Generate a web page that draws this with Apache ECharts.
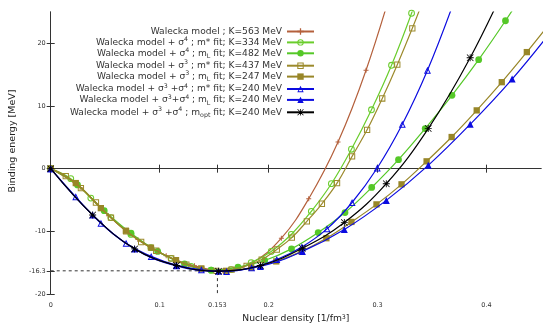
<!DOCTYPE html>
<html><head><meta charset="utf-8">
<script src="https://cdn.jsdelivr.net/npm/echarts@6/dist/echarts.min.js"></script>
<style>html,body{margin:0;padding:0;background:#fff}#c{width:550px;height:329px}</style>
</head><body><div id="c"></div>
<script>
// ---- data ----
const xTickLabels = [0, 0.1, 0.153, 0.2, 0.3, 0.4];
const yTickLabels = [-20, -16.3, -10, 0, 10, 20];
const saturation = [0.153, -16.3];

const walX = [0, 0.027, 0.053, 0.080, 0.106, 0.132, 0.158, 0.185, 0.2117, 0.2368, 0.2637, 0.2894, 0.316];
const walY = [0, -3.0, -7.5, -11.3, -13.9, -15.5, -16.3, -15.0, -11.1, -4.8, 4.25, 15.7, 30.5];

const s4msX = [0, 0.0184, 0.0368, 0.0552, 0.0736, 0.092, 0.1104, 0.1288, 0.1472, 0.1656, 0.184, 0.2024, 0.2208, 0.2392, 0.2576, 0.276, 0.2944, 0.3128, 0.3312, 0.3496];
const s4msY = [0, -1.6, -4.7, -7.8, -10.5, -12.6, -14.3, -15.6, -16.2, -16.1, -15.0, -13.2, -10.5, -6.8, -2.4, 3.1, 9.4, 16.5, 24.8, 34.0];

const s4mlX = [0, 0.0246, 0.0491, 0.0737, 0.0982, 0.1228, 0.1473, 0.1719, 0.1964, 0.221, 0.2455, 0.2701, 0.2946, 0.3192, 0.3437, 0.3683, 0.3928, 0.4174, 0.4419];
const s4mlY = [0, -2.6, -6.7, -10.3, -13.2, -15.2, -16.2, -15.7, -14.65, -12.8, -10.2, -7.0, -3.0, 1.44, 6.4, 11.7, 17.4, 23.6, 30.2];

const s3msX = [0, 0.0138, 0.0277, 0.0415, 0.0553, 0.0692, 0.083, 0.0968, 0.1106, 0.1245, 0.1383, 0.1521, 0.166, 0.1798, 0.1936, 0.2075, 0.2213, 0.2351, 0.2489, 0.2628, 0.2766, 0.2904, 0.3043, 0.3181, 0.3319, 0.3457];
const s3msY = [0, -1.2, -3.1, -5.4, -7.8, -10.0, -11.7, -13.1, -14.3, -15.3, -15.95, -16.3, -16.1, -15.5, -14.5, -12.9, -11.0, -8.4, -5.6, -2.3, 1.96, 6.2, 11.2, 16.6, 22.4, 28.6];

const s3mlX = [0, 0.023, 0.046, 0.069, 0.092, 0.115, 0.138, 0.161, 0.184, 0.207, 0.23, 0.253, 0.276, 0.299, 0.322, 0.345, 0.368, 0.391, 0.414, 0.437, 0.46];
const s3mlY = [0, -2.3, -6.3, -9.9, -12.6, -14.6, -15.95, -16.3, -15.8, -14.8, -13.2, -11.1, -8.5, -5.7, -2.5, 1.17, 5.05, 9.3, 13.8, 18.6, 23.6];

const s34msX = [0, 0.023, 0.0461, 0.0692, 0.0922, 0.1153, 0.1383, 0.1614, 0.1844, 0.2075, 0.2305, 0.2536, 0.2766, 0.2997, 0.3227, 0.3458, 0.3688];
const s34msY = [0, -4.5, -8.7, -11.9, -14.0, -15.4, -16.15, -16.4, -15.8, -14.5, -12.5, -9.6, -5.4, 0.1, 7.08, 15.7, 26.0];

const s34mlX = [0, 0.0385, 0.077, 0.1155, 0.154, 0.1925, 0.231, 0.2695, 0.308, 0.3465, 0.385, 0.4235, 0.462];
const s34mlY = [0, -7.4, -12.8, -15.5, -16.35, -15.6, -13.2, -9.7, -5.06, 0.53, 7.08, 14.3, 22.5];

const s34moX = [0, 0.0385, 0.077, 0.1155, 0.154, 0.1925, 0.231, 0.2695, 0.308, 0.3465, 0.385, 0.4235];
const s34moY = [0, -7.4, -12.8, -15.45, -16.35, -15.45, -12.7, -8.6, -2.4, 6.4, 17.7, 31.5];

const seriesNames = [
  'Walecka model ; K=563 MeV',
  'Walecka model + σ4 ; m* fit; K=334 MeV',
  'Walecka model + σ4 ; mL fit; K=482 MeV',
  'Walecka model + σ3 ; m* fit; K=437 MeV',
  'Walecka model + σ3 ; mL fit; K=247 MeV',
  'Walecka model + σ3 +σ4 ; m* fit; K=240 MeV',
  'Walecka model + σ3+σ4 ; mL fit; K=240 MeV',
  'Walecka model + σ3 +σ4 ; mopt fit; K=240 MeV'
];
const legendRich = [
  '{n|Walecka model ; K=563 MeV}',
  '{n|Walecka model + σ}{sup|4}{n| ; m* fit; K=334 MeV}',
  '{n|Walecka model + σ}{sup|4}{n| ; m}{sub|L}{n| fit; K=482 MeV}',
  '{n|Walecka model + σ}{sup|3}{n| ; m* fit; K=437 MeV}',
  '{n|Walecka model + σ}{sup|3}{n| ; m}{sub|L}{n| fit; K=247 MeV}',
  '{n|Walecka model + σ}{sup|3}{n| +σ}{sup|4}{n| ; m* fit; K=240 MeV}',
  '{n|Walecka model + σ}{sup|3}{n|+σ}{sup|4}{n| ; m}{sub|L}{n| fit; K=240 MeV}',
  '{n|Walecka model + σ}{sup|3}{n| +σ}{sup|4}{n| ; m}{sub|opt}{n| fit; K=240 MeV}'
];

// ---- styles ----
const RING = 'path://M0,5 A5,5 0 1,1 10,5 A5,5 0 1,1 0,5 Z M1.5,5 A3.5,3.5 0 1,0 8.5,5 A3.5,3.5 0 1,0 1.5,5 Z';
const SQRING = 'path://M0,0 L10,0 L10,10 L0,10 Z M1.6,1.6 L1.6,8.4 L8.4,8.4 L8.4,1.6 Z';
const TRIRING = 'path://M5,0 L10,10 L0,10 Z M5,3.2 L2.2,8.5 L7.8,8.5 Z';
const PLUS = 'path://M0,2 L5,2 L5,3 L0,3 Z M2,0 L3,0 L3,5 L2,5 Z';
const STAR = 'path://M0,4.4 L10,4.4 L10,5.6 L0,5.6 Z M4.4,0 L5.6,0 L5.6,10 L4.4,10 Z M0.8,0 L10,9.2 L9.2,10 L0,0.8 Z M9.2,0 L10,0.8 L0.8,10 L0,9.2 Z';

const styles = [
  {c: '#b4603c', sym: PLUS, size: 5},
  {c: '#6acd2c', sym: RING, size: 6.8},
  {c: '#55c828', sym: 'circle', size: 6.8},
  {c: '#9c8a2c', sym: SQRING, size: 6.3},
  {c: '#988628', sym: 'rect', size: 6.3},
  {c: '#0b0be0', sym: TRIRING, size: 7},
  {c: '#0b0be0', sym: 'triangle', size: 7},
  {c: '#000000', sym: STAR, size: 7}
];
const xs = [walX, s4msX, s4mlX, s3msX, s3mlX, s34msX, s34mlX, s34moX];
const ys = [walY, s4msY, s4mlY, s3msY, s3mlY, s34msY, s34mlY, s34moY];

const FONT = 'DejaVu Sans';
const series = seriesNames.map((name, i) => ({
  name: name,
  type: 'line',
  data: xs[i].map((x, k) => [x, ys[i][k]]),
  smooth: 0.4,
  symbol: styles[i].sym,
  symbolSize: styles[i].size,
  symbolKeepAspect: true,
  showSymbol: true,
  clip: true,
  lineStyle: {color: styles[i].c, width: 1.2},
  itemStyle: {color: styles[i].c},
  emphasis: {disabled: true},
  z: 2 + i
}));
series.push({
  type: 'line', silent: true, symbol: 'none',
  data: [[0, saturation[1]], [saturation[0], saturation[1]], [saturation[0], -20]],
  lineStyle: {color: '#333', width: 1, type: [3, 3]}, z: 1
});

const tickStyle = {inside: true, length: 4, lineStyle: {color: '#333'}};
const chart = echarts.init(document.getElementById('c'), null, {renderer: 'canvas'});
chart.setOption({
  animation: false,
  backgroundColor: '#fff',
  grid: {left: 45, right: 9, top: 12, bottom: 35},
  legend: {
    data: seriesNames,
    orient: 'vertical', align: 'right',
    right: 230, top: 22,
    itemWidth: 27, itemHeight: 8, itemGap: 0.4,
    selectedMode: false,
    formatter: name => legendRich[seriesNames.indexOf(name)],
    textStyle: {
      fontFamily: FONT, fontSize: 9.1,
      rich: {
        n: {fontSize: 9.1, fontFamily: FONT, color: '#333', lineHeight: 12},
        sup: {fontSize: 6.3, fontFamily: FONT, color: '#333', lineHeight: 8, verticalAlign: 'top'},
        sub: {fontSize: 6.3, fontFamily: FONT, color: '#333', lineHeight: 8, verticalAlign: 'bottom'}
      }
    }
  },
  xAxis: [{
    type: 'value', min: 0, max: 0.45, position: 'bottom',
    name: 'Nuclear density [1/fm{sup|3}]', nameLocation: 'middle', nameGap: 19,
    nameTextStyle: {fontSize: 9.2, fontFamily: FONT, color: '#222',
      rich: {sup: {fontSize: 6.3, fontFamily: FONT, color: '#222', verticalAlign: 'top', lineHeight: 8}}},
    axisLine: {show: true, lineStyle: {color: '#333', width: 1}},
    axisTick: Object.assign({customValues: xTickLabels}, tickStyle),
    axisLabel: {customValues: xTickLabels, fontSize: 6.5, fontFamily: FONT, color: '#333', margin: 8},
    splitLine: {show: false}
  }, {
    type: 'value', min: 0, max: 0.45, position: 'top',
    axisLine: {show: true, lineStyle: {color: '#333', width: 1}},
    axisTick: Object.assign({customValues: xTickLabels}, tickStyle),
    axisLabel: {show: false}, splitLine: {show: false}
  }],
  yAxis: [{
    type: 'value', min: -20, max: 25, position: 'left',
    name: 'Binding energy [MeV]', nameLocation: 'middle', nameGap: 27,
    nameTextStyle: {fontSize: 9.5, fontFamily: FONT, color: '#222', padding: [0, 0, 0, 24]},
    axisLine: {show: true, lineStyle: {color: '#333', width: 1}},
    axisTick: Object.assign({customValues: yTickLabels}, tickStyle),
    axisLabel: {customValues: yTickLabels, fontSize: 6.5, fontFamily: FONT, color: '#333', margin: 5},
    splitLine: {show: false}
  }, {
    type: 'value', min: -20, max: 25, position: 'right',
    axisLine: {show: true, lineStyle: {color: '#333', width: 1}},
    axisTick: Object.assign({customValues: yTickLabels}, tickStyle),
    axisLabel: {show: false}, splitLine: {show: false}
  }],
  series: series
});
</script>
</body></html>
